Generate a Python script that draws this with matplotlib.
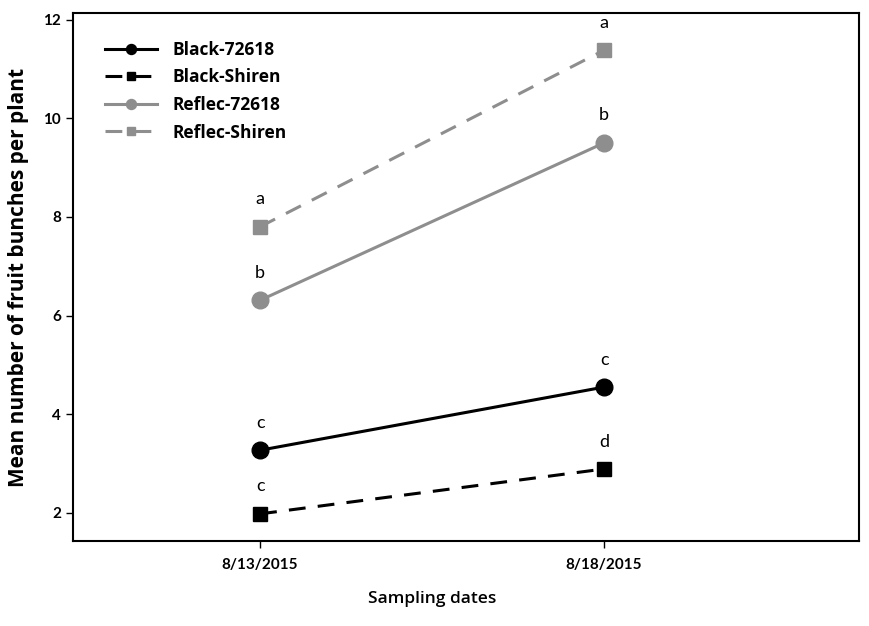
import matplotlib.pyplot as plt
import numpy as np

# === Dati ===
dates = ["8/13/2015", "8/18/2015"]
series_names = ["Black-72618", "Black-Shiren", "Reflec-72618", "Reflec-Shiren"]
black_72618 = [3.27, 4.55]
black_shiren = [1.98, 2.89]
reflec_72618 = [6.31, 9.50]
reflec_shiren = [7.80, 11.38]
letters_72618_black = ["c", "c"]
letters_shiren_black = ["c", "d"]
letters_72618_reflec = ["b", "b"]
letters_shiren_reflec = ["a", "a"]

plt.rcParams['font.family'] = ['Lato', 'DejaVu Sans']

fig = plt.figure(figsize=(8.69, 6.26), dpi=100)
ax = fig.add_axes([0.084, 0.1358, 0.9045, 0.8432])

x = np.arange(len(dates))
grey = '#8e8e8e'
styles = [
    (black_72618, 'black', '-', 'o', 12, letters_72618_black),
    (black_shiren, 'black', (0, (5.5, 4)), 's', 10, letters_shiren_black),
    (reflec_72618, grey, '-', 'o', 12, letters_72618_reflec),
    (reflec_shiren, grey, (0, (5.5, 4)), 's', 10, letters_shiren_reflec),
]

for (vals, col, ls, mk, ms, lett), name in zip(styles, series_names):
    ax.plot(x, vals, color=col, linestyle=ls, linewidth=2.2, marker=mk,
            markersize=ms, label=name)
    for xi, v, l in zip(x, vals, lett):
        ax.annotate(l, (xi, v), xytext=(0, 14), textcoords='offset points',
                    ha='center', va='bottom', fontsize=13)

xmin, xmax = -0.544, 1.741
ax.set_xlim(xmin, xmax)
ax.set_ylim(1.43, 12.13)
ax.set_xticks(x)
ax.set_xticklabels(dates, fontsize=11, fontweight='bold')
ax.set_yticks([2, 4, 6, 8, 10, 12])
ax.set_yticklabels(['2', '4', '6', '8', '10', '12'], fontsize=11, fontweight='bold')
ax.tick_params(direction='out', length=5, width=1)
ax.tick_params(axis='x', pad=7)

for sp in ax.spines.values():
    sp.set_linewidth(1.5)

ax.set_xlabel("Sampling dates", fontsize=12.5, fontweight='semibold',
              family=['Open Sans', 'DejaVu Sans'], labelpad=14)
ax.xaxis.label.set_x((0.5 - xmin) / (xmax - xmin))
ax.set_ylabel("Mean number of fruit bunches per plant", fontsize=15, fontweight='bold',
              family=['Open Sans', 'DejaVu Sans'], labelpad=10)

leg = ax.legend(loc='upper left', frameon=False, handlelength=3.0, handletextpad=0.9,
                markerscale=0.6, labelspacing=0.55, borderaxespad=1.2,
                prop={'family': ['Open Sans', 'DejaVu Sans'], 'size': 12.5, 'weight': 'bold'})
leg.set_bbox_to_anchor((0.005, 1.0), transform=ax.transAxes)

plt.savefig("out.png", dpi=100)
